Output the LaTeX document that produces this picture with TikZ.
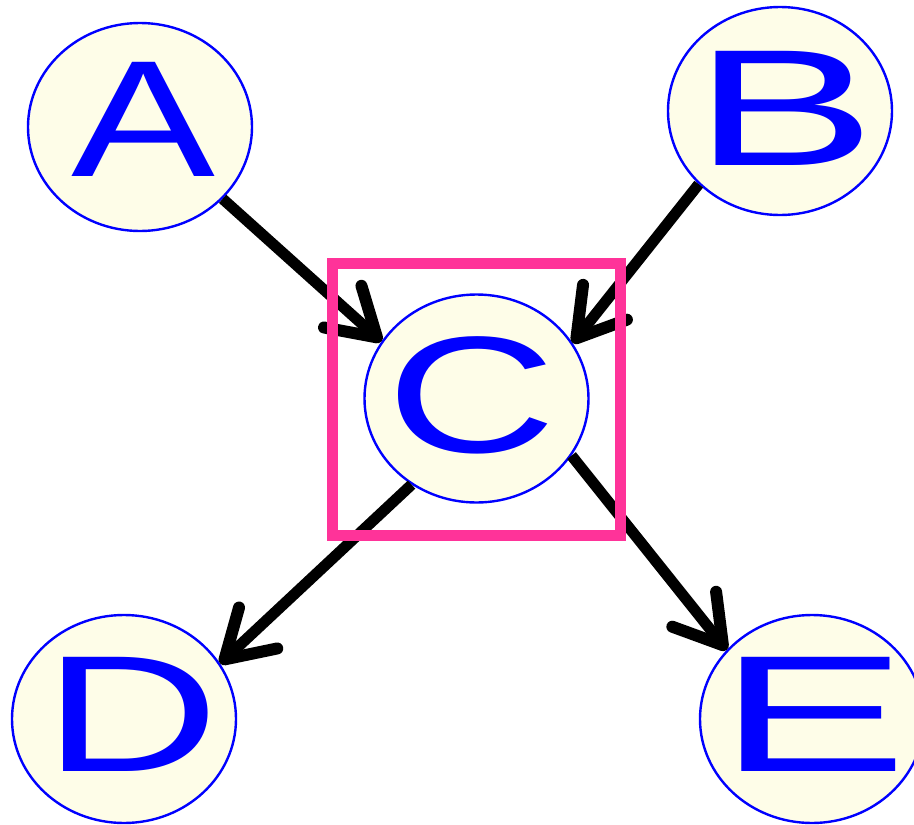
\documentclass[tikz,border=0pt]{standalone}
\usepackage{fontspec}
\setmainfont{Liberation Sans}
\usetikzlibrary{shapes.geometric,arrows.meta}
\definecolor{nodefill}{RGB}{254,253,232}
\definecolor{nodeblue}{RGB}{0,0,255}
\definecolor{boxpink}{RGB}{255,51,153}
\tikzset{
  ell/.style={ellipse,draw=nodeblue,line width=2.4pt,fill=nodefill,minimum width=224pt,minimum height=208pt,inner sep=0pt},
  letter/.style={inner sep=0pt,text=nodeblue,font=\fontsize{166}{166}\selectfont},
  arr/.style={line width=11pt,-{Straight Barb[length=46pt,width=56pt,round,line width=12pt]}},
}
\begin{document}
\begin{tikzpicture}[x=1pt,y=-1pt]
\useasboundingbox (0,0) rectangle (914,825);
\node[ell] (A) at (140,127) {};
\node[ell] (B) at (780,111) {};
\node[ell] (C) at (476.5,398.5) {};
\node[ell] (D) at (124,719) {};
\node[ell] (E) at (812,719) {};
\node[letter] (lA) at (143.5,119) {\scalebox{1.30}[1]{A}};
\node[letter] (lB) at (784.5,108.5) {\scalebox{1.65}[1]{B}};
\node[letter] (lC) at (471.7,395) {\scalebox{1.42}[1]{C}};
\node[letter] (lD) at (132,714) {\scalebox{1.47}[1]{D}};
\node[letter] (lE) at (813,714) {\scalebox{1.71}[1]{E}};
\draw[arr] (A.-41.4) -- (C.149.9);
\draw[arr] (B.222.1) -- (C.30.3);
\draw[arr] (C.233.4) -- (D.30.7);
\draw[arr] (C.-31.1) -- (E.141.3);
\coordinate (r1) at (332.5,263);
\coordinate (r2) at (620.5,535);
\draw[boxpink,line width=11pt] (r1) rectangle (r2);
\end{tikzpicture}
\end{document}
